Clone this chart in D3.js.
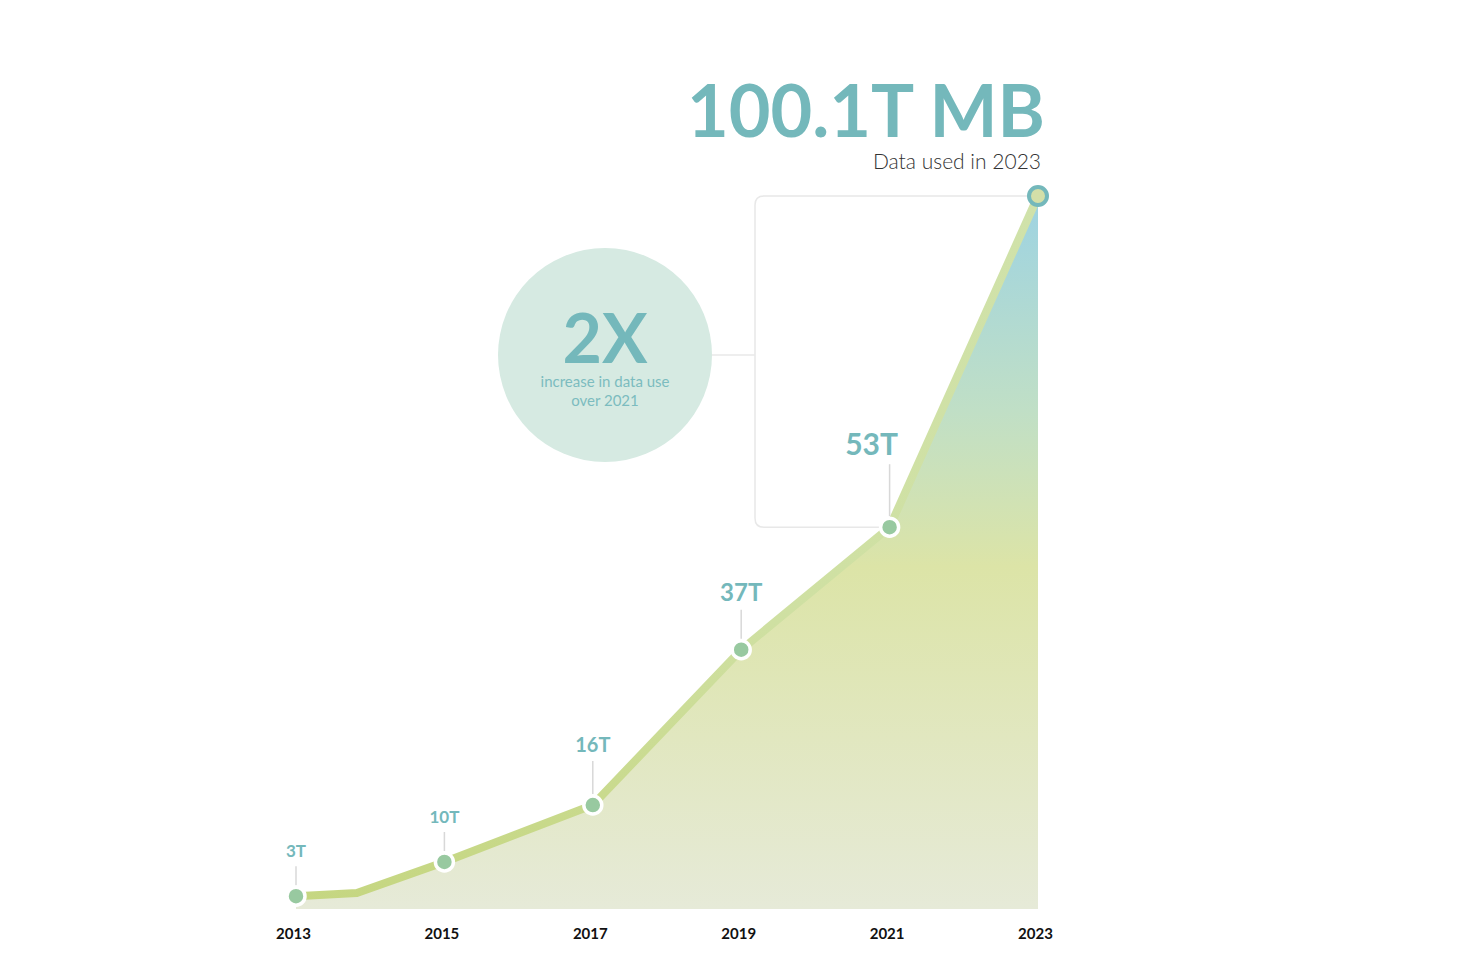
<!DOCTYPE html>
<html>
<head>
<meta charset="utf-8">
<script src="https://cdn.jsdelivr.net/npm/d3@7"></script>
<style>
  html, body { margin: 0; padding: 0; background: #fff; }
  svg text { font-family: "Source Sans Pro", Lato, "Noto Sans", sans-serif; }
</style>
</head>
<body>
<div id="chart"></div>
<script>
"use strict";

// data (heights in trillions of MB, as drawn)
var years = [2013, 2013.82, 2015, 2017, 2019, 2021, 2023];
var usage = [1.8, 2.25, 6.6, 14.6, 36.4, 53.6, 100.1];
// which points get a marker + callout, and what they say
var markedYears = [2013, 2015, 2017, 2019, 2021];
var markedLabels = ["3T", "10T", "16T", "37T", "53T"];
var tickYears = [2013, 2015, 2017, 2019, 2021, 2023];
var headline = "100.1T MB";
var headlineSub = "Data used in 2023";
var bubbleBig = "2X";
var bubbleLines = ["increase in data use", "over 2021"];

var width = 1462;
var height = 978;
var teal = "#74b8bb";

var svg = d3.select("#chart").append("svg")
  .attr("width", width).attr("height", height)
  .attr("viewBox", "0 0 " + width + " " + height);

var x = d3.scaleLinear().domain([2013, 2023]).range([296, 1038]);
var y = d3.scaleLinear().domain([0, 100.1]).range([909, 196]);

var data = years.map(function (yr, i) {
  return { year: yr, value: usage[i] };
});

var defs = svg.append("defs");

// vertical gradient for the area
var areaGrad = defs.append("linearGradient")
  .attr("id", "areaGrad").attr("gradientUnits", "userSpaceOnUse")
  .attr("x1", 0).attr("x2", 0).attr("y1", y(100.1)).attr("y2", y(0));
areaGrad.selectAll("stop")
  .data([["0", "#9dd3e2"], ["0.3", "#c0dfc6"], ["0.52", "#dce4a7"], ["1", "#e6ead8"]])
  .enter().append("stop")
  .attr("offset", function (d) { return d[0]; })
  .attr("stop-color", function (d) { return d[1]; });

var lineGrad = defs.append("linearGradient")
  .attr("id", "lineGrad").attr("gradientUnits", "userSpaceOnUse")
  .attr("x1", 0).attr("x2", 0).attr("y1", y(100.1)).attr("y2", y(0));
lineGrad.selectAll("stop")
  .data([["0", "#d0e2aa"], ["0.6", "#cfe0a2"], ["1", "#c5d680"]])
  .enter().append("stop")
  .attr("offset", function (d) { return d[0]; })
  .attr("stop-color", function (d) { return d[1]; });

// bracket from the 2021 point up to the 2023 point
var last = data[data.length - 1];
var prev = data.find(function (d) { return d.year === 2021; });
var bx = 755, r = 9;
var xTop = x(last.year), yTop = y(last.value);
var xBot = x(prev.year), yBot = y(prev.value);
svg.append("path")
  .attr("d", "M" + xTop + "," + yTop + " H" + (bx + r) +
    " Q" + bx + "," + yTop + " " + bx + "," + (yTop + r) +
    " V" + (yBot - r) +
    " Q" + bx + "," + yBot + " " + (bx + r) + "," + yBot +
    " H" + xBot)
  .attr("fill", "none").attr("stroke", "#e8e8e8").attr("stroke-width", 1.5);

// the bubble
var cx = 605, cy = 355, cr = 107;
svg.append("line")
  .attr("x1", cx + cr).attr("x2", bx).attr("y1", cy).attr("y2", cy)
  .attr("stroke", "#e8e8e8").attr("stroke-width", 1.5);
svg.append("circle")
  .attr("cx", cx).attr("cy", cy).attr("r", cr).attr("fill", "#d6eae2");
svg.append("text")
  .attr("x", cx).attr("y", cy + 8).attr("text-anchor", "middle")
  .attr("font-size", 68).attr("font-weight", 700).attr("fill", teal)
  .text(bubbleBig);
svg.append("g").selectAll("text").data(bubbleLines).enter().append("text")
  .attr("x", cx).attr("y", function (d, i) { return cy + 32 + i * 19; })
  .attr("text-anchor", "middle").attr("font-size", 15).attr("fill", "#7cbcbf")
  .text(function (d) { return d; });

// area + line
var area = d3.area()
  .x(function (d) { return x(d.year); })
  .y0(y(0))
  .y1(function (d) { return y(d.value); });
svg.append("path").datum(data)
  .attr("d", area).attr("fill", "url(#areaGrad)");

var line = d3.line()
  .x(function (d) { return x(d.year); })
  .y(function (d) { return y(d.value); });
svg.append("path").datum(data)
  .attr("d", line).attr("fill", "none")
  .attr("stroke", "url(#lineGrad)").attr("stroke-width", 8)
  .attr("stroke-linejoin", "round");

// callouts
var labelSize = [17, 17, 20, 24, 30];
var labelLift = [39, 39, 53, 49, 72];
var labelShift = [0, 0, 0, 0, -18];
var marked = markedYears.map(function (yr, i) {
  var d = data.find(function (p) { return p.year === yr; });
  return { year: yr, value: d.value, label: markedLabels[i], size: labelSize[i], lift: labelLift[i], dx: labelShift[i] };
});

var callout = svg.append("g").selectAll("g").data(marked).enter().append("g")
  .attr("transform", function (d) { return "translate(" + x(d.year) + "," + y(d.value) + ")"; });
callout.append("line")
  .attr("x1", 0).attr("x2", 0)
  .attr("y1", -11)
  .attr("y2", function (d) { return -d.lift + 9; })
  .attr("stroke", "#d8d8d8").attr("stroke-width", 1.5);
callout.append("text")
  .attr("x", function (d) { return d.dx; })
  .attr("y", function (d) { return -d.lift; })
  .attr("text-anchor", "middle")
  .attr("font-size", function (d) { return d.size; })
  .attr("font-weight", 700).attr("fill", teal)
  .text(function (d) { return d.label; });
callout.append("circle")
  .attr("r", 9).attr("fill", "#98c9a0")
  .attr("stroke", "#fff").attr("stroke-width", 3.5);

// end point
svg.append("circle")
  .attr("cx", xTop).attr("cy", yTop).attr("r", 9)
  .attr("fill", "#d3dfa8").attr("stroke", teal).attr("stroke-width", 4);

// headline
svg.append("text")
  .attr("x", 1045).attr("y", 137).attr("text-anchor", "end")
  .attr("font-size", 72).attr("font-weight", 700).attr("fill", teal)
  .text(headline);
svg.append("text")
  .attr("x", 1041).attr("y", 169).attr("text-anchor", "end")
  .attr("font-size", 21).attr("font-weight", 300).attr("fill", "#333")
  .text(headlineSub);

// x axis labels
var xAxis = d3.axisBottom(x).tickValues(tickYears).tickFormat(d3.format("d")).tickSize(0).tickPadding(0);
var axisG = svg.append("g").attr("transform", "translate(-3," + 928 + ")").call(xAxis);
axisG.select(".domain").remove();
axisG.selectAll("text")
  .attr("font-size", 15).attr("font-weight", 700).attr("fill", "#111")
  .style("font-family", "\"Source Sans Pro\", Lato, \"Noto Sans\", sans-serif");
</script>
</body>
</html>
